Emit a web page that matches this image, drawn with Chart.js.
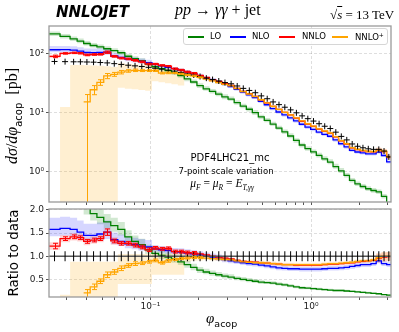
<!DOCTYPE html>
<html><head><meta charset="utf-8">
<script src="https://cdn.jsdelivr.net/npm/chart.js@4.4.1/dist/chart.umd.min.js"></script>
<style>
html,body{margin:0;padding:0;background:#fff;}
#wrap{position:relative;width:399px;height:332px;overflow:hidden;background:#fff;}
canvas{position:absolute;left:0;}
.t{position:absolute;white-space:nowrap;color:#000;line-height:1;}
.serif{font-family:'Liberation Serif','DejaVu Serif',serif;}
.sans{font-family:'DejaVu Sans',sans-serif;}
.rot{transform:translate(-50%,-50%) rotate(-90deg);}
#legend{position:absolute;left:183px;top:28px;width:203px;height:15px;border:1px solid #d6d6d6;border-radius:3px;background:rgba(255,255,255,0.85);font:8.5px 'DejaVu Sans',sans-serif;color:#000;}
#legend .lab{position:absolute;top:3px;line-height:1;white-space:nowrap;}
#legend .ln{position:absolute;width:16px;height:1.5px;top:7px;}
</style>
</head><body>
<div id="wrap">
<canvas id="cTop" width="399" height="210" style="top:0;width:399px;height:210px"></canvas>
<canvas id="cRat" width="399" height="132" style="top:200px;width:399px;height:132px"></canvas>

<div class="t sans" style="left:56px;top:5px;font-size:15px;font-weight:bold;font-style:italic;">NNLOJET</div>
<div class="t serif" style="left:175px;top:2px;font-size:16px;"><i>pp</i> → <i>γγ</i> + jet</div>
<div class="t serif" style="left:330px;top:8px;font-size:13px;">√<span style="text-decoration:overline"><i>s</i></span> = 13 TeV</div>

<div id="legend">
  <i class="ln" style="left:4px;background:#008000"></i><span class="lab" style="left:26px">LO</span>
  <i class="ln" style="left:46px;background:#0000ff"></i><span class="lab" style="left:68px">NLO</span>
  <i class="ln" style="left:95px;background:#ff0000"></i><span class="lab" style="left:118px">NNLO</span>
  <i class="ln" style="left:148px;background:#ffa500"></i><span class="lab" style="left:171px">NNLO<sup style="font-size:6px;vertical-align:3px">+</sup></span>
</div>

<div class="t sans" style="left:230px;top:152.5px;font-size:10px;transform:translateX(-50%);">PDF4LHC21_mc</div>
<div class="t sans" style="left:226px;top:166.5px;font-size:8.5px;transform:translateX(-50%);">7-point scale variation</div>
<div class="t serif" style="left:222px;top:178px;font-size:11.5px;transform:translateX(-50%);"><i>μ<sub style="font-size:7.5px">F</sub></i> = <i>μ<sub style="font-size:7.5px">R</sub></i> = <i>E<sub style="font-size:7.5px">T,γγ</sub></i></div>

<div class="t serif rot" style="left:14px;top:116px;font-size:16px;"><i>dσ</i>/<i>dφ</i><sub class="sans" style="font-size:10px">acop</sub> &nbsp;[pb]</div>
<div class="t sans rot" style="left:14px;top:253px;font-size:13.5px;">Ratio to data</div>
<div class="t serif" style="left:206px;top:311px;font-size:15px;"><i>φ</i><sub class="sans" style="font-size:9.5px">acop</sub></div>
</div>

<script>
// ---------------- data ----------------
const binEdges = [0.02337, 0.02738, 0.03162, 0.03498, 0.03840, 0.04217, 0.04644, 0.05121, 0.05663, 0.06263,
  0.06927, 0.07640, 0.08414, 0.09279, 0.1022, 0.1122, 0.1232, 0.1351, 0.1481, 0.1623,
  0.1778, 0.1947, 0.2130, 0.2330, 0.2547, 0.2783, 0.3041, 0.3320, 0.3622, 0.3951,
  0.4306, 0.4692, 0.5109, 0.5561, 0.6050, 0.6580, 0.7151, 0.7772, 0.8438, 0.9158,
  0.9935, 1.077, 1.167, 1.265, 1.369, 1.482, 1.603, 1.733, 1.873, 2.022,
  2.184, 2.357, 2.541, 2.739, 2.952, 3.1416];

// measured cross section (pb)
const dataXsec = [73, 72.5, 72, 72, 71.5, 71, 70, 69, 67, 65,
  63, 61.5, 60, 58, 56, 54, 52, 50, 47.5, 45,
  43, 40.5, 38, 36, 34, 32, 30.5, 28, 25.5, 23.5,
  21.5, 19, 17, 15, 13.5, 12.2, 11, 9.8, 8.7, 7.8,
  7.1, 6.4, 5.8, 5.3, 4.6, 3.9, 3.4, 2.9, 2.65, 2.5,
  2.4, 2.35, 2.35, 2.2, 1.75];

// ratios to data (central) and scale-variation bands
const ratioLO = [2.93, 2.68, 2.45, 2.25, 2.06, 1.92, 1.84, 1.74, 1.66, 1.58,
  1.42, 1.32, 1.25, 1.14, 1.06, 1.02, 0.98, 0.94, 0.88, 0.82,
  0.76, 0.70, 0.66, 0.63, 0.60, 0.57, 0.55, 0.52, 0.50, 0.48,
  0.46, 0.44, 0.43, 0.42, 0.40, 0.38, 0.36, 0.34, 0.32, 0.31,
  0.30, 0.29, 0.28, 0.27, 0.26, 0.26, 0.25, 0.24, 0.23, 0.22,
  0.21, 0.20, 0.19, 0.17, 0.16];
const loBandLow = [2.70, 2.47, 2.25, 2.07, 1.90, 1.77, 1.69, 1.60, 1.53, 1.45,
  1.31, 1.21, 1.15, 1.05, 0.98, 0.94, 0.90, 0.86, 0.81, 0.75,
  0.70, 0.64, 0.61, 0.58, 0.55, 0.52, 0.51, 0.48, 0.46, 0.44,
  0.42, 0.40, 0.40, 0.39, 0.37, 0.35, 0.33, 0.31, 0.29, 0.285,
  0.276, 0.267, 0.258, 0.248, 0.239, 0.239, 0.23, 0.221, 0.212, 0.202,
  0.193, 0.184, 0.175, 0.156, 0.147];
const loBandHigh = [3.22, 2.95, 2.70, 2.48, 2.27, 2.11, 2.02, 1.91, 1.83, 1.74,
  1.56, 1.45, 1.38, 1.25, 1.17, 1.12, 1.08, 1.03, 0.97, 0.90,
  0.84, 0.77, 0.73, 0.69, 0.66, 0.63, 0.61, 0.57, 0.55, 0.53,
  0.51, 0.48, 0.47, 0.46, 0.44, 0.42, 0.40, 0.37, 0.35, 0.34,
  0.33, 0.32, 0.31, 0.30, 0.29, 0.29, 0.275, 0.264, 0.253, 0.242,
  0.231, 0.22, 0.209, 0.187, 0.176];

const ratioNLO = [1.58, 1.60, 1.58, 1.52, 1.45, 1.45, 1.48, 1.52, 1.36, 1.32,
  1.27, 1.25, 1.22, 1.20, 1.16, 1.14, 1.12, 1.10, 1.09, 1.07,
  1.05, 1.03, 1.00, 0.98, 0.96, 0.93, 0.90, 0.88, 0.86, 0.84,
  0.83, 0.81, 0.79, 0.77, 0.75, 0.74, 0.73, 0.73, 0.72, 0.72,
  0.72, 0.72, 0.73, 0.74, 0.74, 0.75, 0.76, 0.78, 0.80, 0.82,
  0.82, 0.84, 0.90, 0.84, 0.82];
const nloBandLow = [1.43, 1.45, 1.43, 1.37, 1.30, 1.30, 1.33, 1.37, 1.26, 1.22,
  1.17, 1.15, 1.12, 1.10, 1.10, 1.08, 1.06, 1.04, 1.03, 1.01,
  0.99, 0.97, 0.94, 0.92, 0.90, 0.87, 0.85, 0.83, 0.81, 0.79,
  0.78, 0.76, 0.74, 0.72, 0.70, 0.69, 0.68, 0.68, 0.67, 0.67,
  0.67, 0.67, 0.68, 0.69, 0.69, 0.70, 0.71, 0.73, 0.75, 0.77,
  0.77, 0.79, 0.85, 0.79, 0.77];
const nloBandHigh = [1.83, 1.85, 1.83, 1.77, 1.70, 1.70, 1.73, 1.77, 1.51, 1.47,
  1.42, 1.40, 1.37, 1.35, 1.24, 1.22, 1.20, 1.18, 1.17, 1.15,
  1.13, 1.11, 1.08, 1.06, 1.04, 1.01, 0.95, 0.93, 0.91, 0.89,
  0.88, 0.86, 0.84, 0.82, 0.80, 0.79, 0.78, 0.78, 0.77, 0.77,
  0.77, 0.77, 0.78, 0.79, 0.79, 0.80, 0.81, 0.83, 0.85, 0.87,
  0.87, 0.89, 0.95, 0.89, 0.87];

const ratioNNLO = [1.22, 1.38, 1.42, 1.40, 1.32, 1.35, 1.38, 1.52, 1.33, 1.28,
  1.28, 1.24, 1.20, 1.14, 1.18, 1.16, 1.17, 1.10, 1.10, 1.08,
  1.07, 1.05, 1.03, 1.00, 0.98, 0.96, 0.94, 0.91, 0.89, 0.88,
  0.87, 0.86, 0.85, 0.84, 0.83, 0.82, 0.82, 0.81, 0.81, 0.81,
  0.81, 0.81, 0.82, 0.83, 0.83, 0.84, 0.85, 0.86, 0.88, 0.89,
  0.90, 0.91, 0.96, 0.98, 0.99];
const nnloBandLow = [1.14, 1.30, 1.34, 1.32, 1.24, 1.27, 1.30, 1.44, 1.25, 1.23,
  1.23, 1.19, 1.15, 1.09, 1.13, 1.11, 1.12, 1.05, 1.05, 1.03,
  1.02, 1.02, 1.00, 0.97, 0.95, 0.93, 0.91, 0.88, 0.86, 0.85,
  0.84, 0.83, 0.82, 0.81, 0.80, 0.79, 0.79, 0.78, 0.78, 0.78,
  0.78, 0.78, 0.79, 0.80, 0.80, 0.81, 0.82, 0.83, 0.85, 0.86,
  0.87, 0.88, 0.86, 0.88, 0.89];
const nnloBandHigh = [1.30, 1.46, 1.50, 1.48, 1.40, 1.43, 1.46, 1.60, 1.41, 1.33,
  1.33, 1.29, 1.25, 1.19, 1.23, 1.21, 1.22, 1.15, 1.15, 1.13,
  1.12, 1.08, 1.06, 1.03, 1.01, 0.99, 0.97, 0.94, 0.92, 0.91,
  0.90, 0.89, 0.88, 0.87, 0.86, 0.85, 0.85, 0.84, 0.84, 0.84,
  0.84, 0.84, 0.85, 0.86, 0.86, 0.87, 0.88, 0.89, 0.91, 0.92,
  0.93, 0.94, 1.06, 1.08, 1.09];
const nnloErr = [0.06, 0.04, 0.04, 0.04, 0.04, 0.04, 0.04, 0.07, 0.04, 0.04,
  0.04, 0.04, 0.04, 0.04, 0.03, 0.03, 0.03, 0.03, 0.03, 0.03,
  0.03, null, null, null, null, null, null, null, null, null,
  null, null, null, null, null, null, null, null, null, null,
  null, null, null, null, null, null, null, null, null, null,
  null, null, null, null, null];

const ratioNNLOplus = [null, null, null, null, 0.21, 0.34, 0.46, 0.60, 0.66, 0.74,
  0.80, 0.84, 0.85, 0.88, 0.91, 0.86, 0.90, 0.93, 0.95, 0.96,
  0.97, 0.97, 0.96, 0.95, 0.94, 0.93, 0.92, 0.90, 0.88, 0.87,
  0.86, 0.86, 0.85, 0.84, 0.83, 0.82, 0.82, 0.82, 0.82, 0.82,
  0.82, 0.82, 0.83, 0.84, 0.84, 0.85, 0.86, 0.87, 0.89, 0.90,
  0.90, 0.92, 0.97, 1.00, 1.00];
const nnloPlusBandLow = [null, -1, -1, -1, -1, -1, -1, -1, -1, 0.40,
  0.40, 0.40, 0.40, 0.40, 0.60, 0.60, 0.60, 0.60, 0.60, 0.88,
  0.90, 0.91, 0.92, 0.91, 0.90, 0.89, 0.88, 0.86, 0.84, 0.83,
  0.82, 0.82, 0.81, 0.80, 0.79, 0.78, 0.78, 0.78, 0.78, 0.78,
  0.78, 0.78, 0.79, 0.80, 0.80, 0.81, 0.82, 0.83, 0.85, 0.86,
  0.86, 0.88, 0.88, 0.91, 0.91];
const nnloPlusBandHigh = [null, 0.17, 0.88, 0.88, 0.88, 0.88, 0.88, 0.88, 0.88, 1.05,
  1.05, 1.05, 1.05, 1.05, 1.05, 1.05, 1.05, 1.05, 1.05, 1.04,
  1.05, 1.05, 1.00, 0.99, 0.98, 0.97, 0.96, 0.94, 0.92, 0.91,
  0.90, 0.90, 0.89, 0.88, 0.87, 0.86, 0.86, 0.86, 0.86, 0.86,
  0.86, 0.86, 0.87, 0.88, 0.88, 0.89, 0.90, 0.91, 0.93, 0.94,
  0.94, 0.96, 1.06, 1.09, 1.09];
const nnloPlusErrDown = [null, null, null, null, 0.21, 0.06, 0.05, 0.06, 0.05, 0.05,
  0.04, 0.04, 0.03, 0.03, 0.03, 0.03, 0.03, 0.02, 0.02, 0.02,
  0.02, 0.02, null, null, null, null, null, null, null, null,
  null, null, null, null, null, null, null, null, null, null,
  null, null, null, null, null, null, null, null, null, null,
  null, null, null, null, null];
const nnloPlusErrUp = [null, null, null, null, 0.07, 0.06, 0.05, 0.06, 0.05, 0.05,
  0.04, 0.04, 0.03, 0.03, 0.03, 0.03, 0.03, 0.02, 0.02, 0.02,
  0.02, 0.02, null, null, null, null, null, null, null, null,
  null, null, null, null, null, null, null, null, null, null,
  null, null, null, null, null, null, null, null, null, null,
  null, null, null, null, null];

// axis ticks
const xTicks = [0.03, 0.04, 0.05, 0.06, 0.07, 0.08, 0.09, 0.1, 0.2, 0.3, 0.4, 0.5, 0.6, 0.7, 0.8, 0.9, 1, 2, 3];
const xMajor = [0.1, 1];
const xMajorLabels = ['10⁻¹', '10⁰'];
const yTopTicks = [1, 10, 100];
const yTopLabels = ['10⁰', '10¹', '10²'];
const yRatioTicks = [0.5, 1, 1.5, 2];
const yRatioLabels = ['0.5', '1.0', '1.5', '2.0'];

// ---------------- helpers ----------------
const COL = { lo: '#008000', nlo: '#0000ff', nnlo: '#ff0000', nnlop: '#ffa500' };
const BAND = { lo: 'rgba(0,128,0,0.18)', nlo: 'rgba(0,0,255,0.16)', nnlo: 'rgba(255,0,0,0.16)', nnlop: 'rgba(255,165,0,0.18)' };
const centers = dataXsec.map((_, i) => Math.sqrt(binEdges[i] * binEdges[i + 1]));

function stepLine(vals) {
  const pts = [];
  vals.forEach((v, i) => {
    const y = (v === null || v === undefined) ? null : v;
    pts.push({ x: binEdges[i], y: y }, { x: binEdges[i + 1], y: y });
  });
  return pts;
}
const absConv = r => r.map((v, i) => v === null ? null : Math.max(v * dataXsec[i], 1e-4));
const ratioConv = r => r.map(v => v);

function buildSets(top) {
  const conv = top ? absConv : ratioConv;
  const sets = [];
  const band = (lo, hi, color, order) => {
    sets.push({ data: stepLine(conv(lo)), borderColor: 'transparent', borderWidth: 0, pointRadius: 0, fill: false, order: order });
    sets.push({ data: stepLine(conv(hi)), borderColor: 'transparent', borderWidth: 0, pointRadius: 0, fill: '-1', backgroundColor: color, order: order });
  };
  band(loBandLow, loBandHigh, BAND.lo, 13);
  band(nloBandLow, nloBandHigh, BAND.nlo, 12);
  band(nnloBandLow, nnloBandHigh, BAND.nnlo, 11);
  band(nnloPlusBandLow, nnloPlusBandHigh, BAND.nnlop, 10);

  const line = (r, color, order, errs) => {
    const ds = { data: stepLine(conv(r)), borderColor: color, borderWidth: 1.3, pointRadius: 0, fill: false, order: order };
    if (errs) ds.errBars = errs;
    sets.push(ds);
  };
  line(ratioLO, COL.lo, 5);
  line(ratioNLO, COL.nlo, 4);
  const nnloErrs = [];
  ratioNNLO.forEach((v, i) => {
    if (nnloErr[i] === null) return;
    const lo = v - nnloErr[i], hi = v + nnloErr[i];
    nnloErrs.push({ x: centers[i], lo: top ? Math.max(lo * dataXsec[i], 1e-4) : lo, hi: top ? hi * dataXsec[i] : hi });
  });
  line(ratioNNLO, COL.nnlo, 3, nnloErrs);
  const plusErrs = [];
  ratioNNLOplus.forEach((v, i) => {
    if (v === null || nnloPlusErrDown[i] === null) return;
    const lo = v - nnloPlusErrDown[i], hi = v + nnloPlusErrUp[i];
    plusErrs.push({ x: centers[i], lo: top ? Math.max(lo * dataXsec[i], 1e-4) : lo, hi: top ? hi * dataXsec[i] : hi });
  });
  line(ratioNNLOplus, COL.nnlop, 2, plusErrs);

  if (top) {
    sets.push({ data: centers.map((c, i) => ({ x: c, y: dataXsec[i] })), showLine: false, pointStyle: 'cross',
      pointRadius: 3, borderColor: '#000', borderWidth: 1, order: 0 });
  } else {
    sets.push({ data: [{ x: binEdges[0], y: 1 }, { x: binEdges[binEdges.length - 1], y: 1 }], borderColor: '#555',
      borderWidth: 1.6, pointRadius: 0, fill: false, order: 1 });
    sets.push({ data: centers.map(c => ({ x: c, y: 1 })), showLine: false, pointStyle: 'line', rotation: 90,
      pointRadius: 5, borderColor: '#000', borderWidth: 1, order: 0 });
  }
  return sets;
}

const errPlugin = {
  id: 'errbars',
  afterDatasetsDraw(chart) {
    const { ctx, chartArea: a, scales: { x, y } } = chart;
    ctx.save();
    ctx.beginPath(); ctx.rect(a.left, a.top, a.right - a.left, a.bottom - a.top); ctx.clip();
    chart.data.datasets.forEach(ds => {
      if (!ds.errBars) return;
      ctx.strokeStyle = ds.borderColor; ctx.lineWidth = 1;
      ds.errBars.forEach(e => {
        const px = Math.round(x.getPixelForValue(e.x)) + 0.5;
        const p1 = y.getPixelForValue(e.lo), p2 = y.getPixelForValue(e.hi);
        ctx.beginPath();
        ctx.moveTo(px, p1); ctx.lineTo(px, p2);
        ctx.moveTo(px - 2.5, p1); ctx.lineTo(px + 2.5, p1);
        ctx.moveTo(px - 2.5, p2); ctx.lineTo(px + 2.5, p2);
        ctx.stroke();
      });
    });
    ctx.restore();
  }
};
const framePlugin = {
  id: 'frame',
  afterDraw(chart) {
    const { ctx, chartArea: a } = chart;
    ctx.save(); ctx.strokeStyle = '#9a9a9a'; ctx.lineWidth = 1.3;
    ctx.strokeRect(a.left, a.top, a.right - a.left, a.bottom - a.top);
    ctx.restore();
  }
};

Chart.defaults.font.family = "'DejaVu Sans', sans-serif";
Chart.defaults.font.size = 9;
Chart.defaults.color = '#222';

const GRIDC = 'rgba(0,0,0,0.13)';
function xScale(showLabels, height) {
  return {
    type: 'logarithmic', min: binEdges[0], max: binEdges[binEdges.length - 1],
    afterBuildTicks: s => { s.ticks = xTicks.map(v => ({ value: v })); },
    afterFit: s => { s.height = height; },
    ticks: { display: showLabels, autoSkip: false, maxRotation: 0, padding: 1,
      callback: v => { const k = xMajor.indexOf(v); return k >= 0 ? xMajorLabels[k] : ''; } },
    grid: { color: c => (c.tick && xMajor.indexOf(c.tick.value) >= 0) ? GRIDC : 'rgba(0,0,0,0)',
      tickColor: '#555', tickLength: 3, lineWidth: 1 },
    border: { display: false, dash: [3, 2] }
  };
}
function yScale(opts, ticksArr, labels) {
  return Object.assign({
    afterBuildTicks: s => { s.ticks = ticksArr.map(v => ({ value: v })); },
    afterFit: s => { s.width = 49; },
    ticks: { autoSkip: false, padding: 2, callback: v => { const k = ticksArr.indexOf(v); return k >= 0 ? labels[k] : ''; } },
    grid: { color: GRIDC, tickColor: '#555', tickLength: 3, lineWidth: 1 },
    border: { display: false, dash: [3, 2] }
  }, opts);
}

const common = {
  responsive: false, animation: false, events: [],
  plugins: { legend: { display: false }, tooltip: { enabled: false }, filler: { drawTime: 'beforeDatasetsDraw' } },
  elements: { line: { tension: 0 } }
};

new Chart(document.getElementById('cTop'), {
  type: 'line',
  data: { datasets: buildSets(true) },
  options: Object.assign({}, common, {
    layout: { padding: { left: 0, right: 8, top: 26, bottom: 0 } },
    scales: {
      x: xScale(false, 8),
      y: yScale({ type: 'logarithmic', min: 0.311, max: 292 }, yTopTicks, yTopLabels)
    }
  }),
  plugins: [errPlugin, framePlugin]
});

new Chart(document.getElementById('cRat'), {
  type: 'line',
  data: { datasets: buildSets(false) },
  options: Object.assign({}, common, {
    layout: { padding: { left: 0, right: 8, top: 9, bottom: 0 } },
    scales: {
      x: xScale(true, 35),
      y: yScale({ type: 'linear', min: 0.12, max: 2.02 }, yRatioTicks, yRatioLabels)
    }
  }),
  plugins: [errPlugin, framePlugin]
});
</script>
</body></html>
